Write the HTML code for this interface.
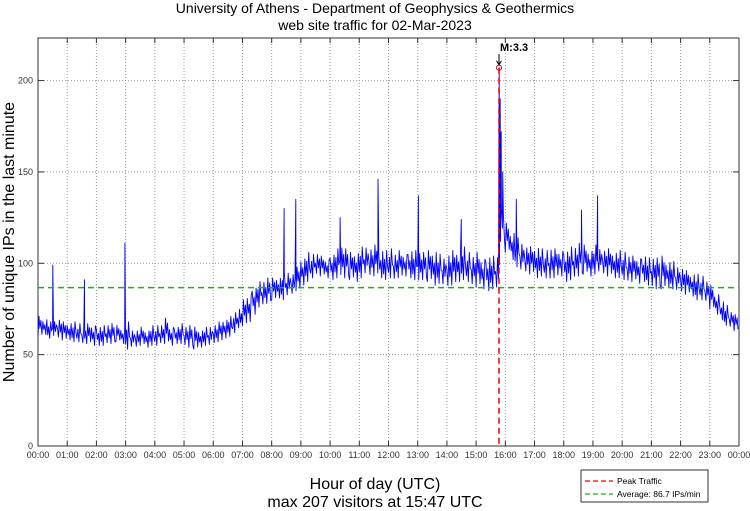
<!DOCTYPE html>
<html><head><meta charset="utf-8"><style>
body{margin:0;background:#fff;}
svg{display:block;font-family:"Liberation Sans",sans-serif;}
</style></head><body>
<svg id="chart" width="750" height="511" viewBox="0 0 750 511"></svg>
<script>
const hourLabels=["00:00","01:00","02:00","03:00","04:00","05:00","06:00","07:00","08:00","09:00","10:00","11:00","12:00","13:00","14:00","15:00","16:00","17:00","18:00","19:00","20:00","21:00","22:00","23:00","00:00"];
const yTicks=[0,50,100,150,200];
const binLo=[60,61,59,60,59,58, 58,57,57,56,56,55, 55,55,56,56,57,56, 53,54,54,55,54,55, 55,56,56,55,56,56, 55,54,53,54,55,55,
56,57,59,60,62,64, 66,68,72,76,77,78, 80,81,80,82,83,85, 88,90,92,94,93,92, 91,92,93,92,91,90, 92,94,93,93,92,91,
92,91,92,93,92,91, 90,91,90,88,89,88, 87,88,90,91,90,88, 87,86,85,86,86,112, 106,102,98,96,95,94, 92,93,92,91,92,93,
90,91,92,93,94,93, 94,95,94,93,92,92, 91,90,90,89,90,88, 87,86,86,87,86,85, 84,83,82,80,80,79, 75,72,69,66,65,63];
const binHi=[71,70,68,69,70,68, 68,68,67,66,67,67, 66,66,67,67,66,65, 68,64,64,65,64,66, 66,67,70,66,66,67, 66,66,65,64,65,66,
67,68,70,71,73,76, 80,84,88,90,91,92, 92,93,95,96,95,98, 104,106,105,106,104,103, 106,108,110,108,106,107, 109,110,109,110,108,107,
108,106,107,106,108,107, 107,106,107,108,105,104, 106,107,108,109,106,105, 106,104,105,104,105,130, 122,118,114,112,110,109, 110,108,107,109,108,108,
108,109,110,111,110,108, 110,109,108,108,107,107, 106,105,104,104,105,103, 104,103,104,102,101,99, 98,96,95,94,93,91, 88,84,80,77,74,72];
const spikeMin=[30,95,178,505,529,620,698,781,869,947,949,951,954,982,1116,1149];
const spikeVal=[99,91,111,130,135,125,146,137,124,207,190,172,150,135,129,137];
const peakMinute=947, peakValue=207, avgValue=86.7;

const NS="http://www.w3.org/2000/svg", svg=document.getElementById('chart');
const L=38,R=739,T=38,B=446;
const xS=m=>L+(R-L)*m/1440, yS=v=>B-(B-T)*v/223.3;
function el(tag,attrs,parent){const e=document.createElementNS(NS,tag);for(const k in attrs)e.setAttribute(k,attrs[k]);(parent||svg).appendChild(e);return e;}
function txt(s,attrs){const t=el('text',attrs);t.textContent=s;return t;}

hourLabels.forEach((h,i)=>{const x=xS(i*60);
 if(i>0&&i<24){const g=el('line',{x1:x,x2:x,y1:T,y2:B,stroke:'#999','stroke-dasharray':'1,2','stroke-width':1});
 
 }
 el('line',{x1:x,x2:x,y1:B,y2:B-5,stroke:'#333'});el('line',{x1:x,x2:x,y1:T,y2:T+5,stroke:'#333'});
 const t=txt(h,{x:x,y:458,'font-size':9,'text-anchor':'middle',fill:'#333'});
 
 
});
yTicks.forEach(v=>{const y=yS(v);
 if(v>0){const g=el('line',{x1:L,x2:R,y1:y,y2:y,stroke:'#999','stroke-dasharray':'1,2'});
 
 }
 el('line',{x1:L,x2:L+6,y1:y,y2:y,stroke:'#333'});el('line',{x1:R,x2:R-6,y1:y,y2:y,stroke:'#333'});
 const t=txt(String(v),{x:33,y:y+3,'font-size':9,'text-anchor':'end',fill:'#333'});
 
 
});
const frame=el('rect',{x:L,y:T,width:R-L,height:B-T,fill:'none',stroke:'#333'});



// series: irregular within-bin pattern (fractions of lo..hi range)
const patterns=[[0,1,0.4,0.8,0.1],[0.5,0.05,0.9,0.3,0.7],[0.2,0.7,0.0,1,0.45],[0.8,0.3,0.6,0.0,0.9]];
let pts=[];
binLo.forEach((lo,i)=>{const hi=binHi[i];const p=patterns[(i*3+(i>>2))%4];
 p.forEach((f,k)=>pts.push([i*10+k*2,lo+(hi-lo)*f]));});
spikeMin.forEach((m,i)=>pts.push([m+0.5,spikeVal[i]]));
pts.sort((a,b)=>a[0]-b[0]);
const d=pts.map((p,i)=>(i?'L':'M')+xS(p[0]).toFixed(1)+','+yS(p[1]).toFixed(1)).join('');
const ser=el('path',{d:d,fill:'none',stroke:'#0000ff','stroke-width':0.9,'stroke-linejoin':'round'});



const av=el('line',{x1:L,x2:R,y1:yS(avgValue),y2:yS(avgValue),stroke:'#22aa22','stroke-width':1.5,'stroke-dasharray':'6,4'});


const pk=el('line',{x1:xS(peakMinute),x2:xS(peakMinute),y1:yS(peakValue),y2:B,stroke:'#ee0000','stroke-width':1.5,'stroke-dasharray':'6,4'});


const pc=el('circle',{cx:xS(peakMinute),cy:yS(peakValue),r:2.5,fill:'none',stroke:'#ee0000'});


const px=xS(peakMinute);
el('line',{x1:px,x2:px,y1:54,y2:yS(peakValue)-3,stroke:'#000'});
el('path',{d:`M${px-2.5},${yS(peakValue)-7}L${px},${yS(peakValue)-3}L${px+2.5},${yS(peakValue)-7}`,fill:'none',stroke:'#000'});
const ml=txt('M:3.3',{x:px+1,y:51,'font-size':11,'font-weight':'bold'});



const t1=txt('University of Athens - Department of Geophysics & Geothermics',{x:375,y:13,'font-size':14,'text-anchor':'middle'});


const t2=txt('web site traffic for 02-Mar-2023',{x:375,y:30,'font-size':14,'text-anchor':'middle'});


const xl=txt('Hour of day (UTC)',{x:375,y:489,'font-size':16,'text-anchor':'middle'});


const mx=txt('max 207 visitors at 15:47 UTC',{x:375,y:507,'font-size':16,'text-anchor':'middle'});


const yl=txt('Number of unique IPs in the last minute',{x:0,y:0,'font-size':16,'text-anchor':'middle',transform:'translate(14,242) rotate(-90)'});



const lg=el('g',{});


el('rect',{x:581,y:470,width:127,height:32,fill:'#fff',stroke:'#333'},lg);
el('line',{x1:585,x2:613,y1:481,y2:481,stroke:'#ee0000','stroke-width':1.3,'stroke-dasharray':'5,3'},lg);
el('line',{x1:585,x2:613,y1:494,y2:494,stroke:'#22aa22','stroke-width':1.3,'stroke-dasharray':'5,3'},lg);
const l1=document.createElementNS(NS,'text');l1.setAttribute('x',617);l1.setAttribute('y',484);l1.setAttribute('font-size',8.5);l1.textContent='Peak Traffic';lg.appendChild(l1);


const l2=document.createElementNS(NS,'text');l2.setAttribute('x',617);l2.setAttribute('y',497);l2.setAttribute('font-size',8.5);l2.textContent='Average: 86.7 IPs/min';lg.appendChild(l2);


</script>
</body></html>
